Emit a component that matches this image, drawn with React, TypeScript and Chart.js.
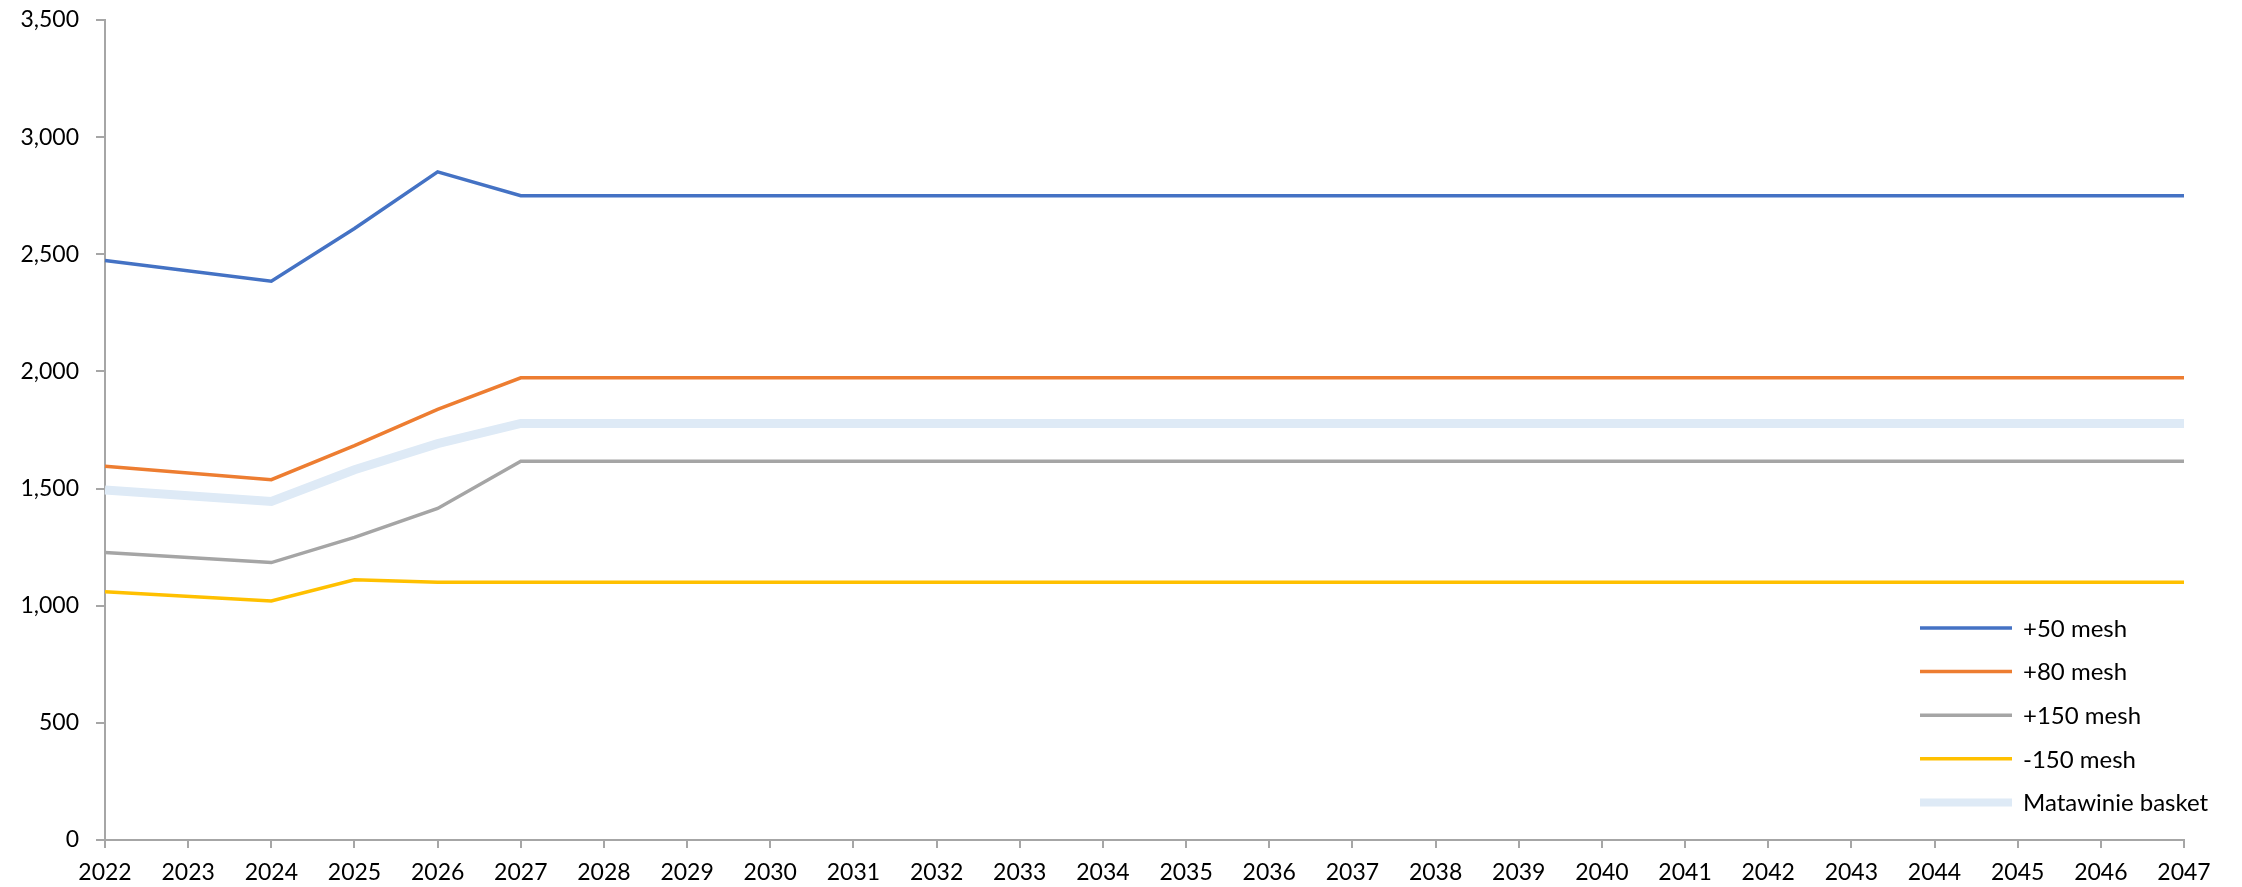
import React, { useEffect, useRef } from "react";
import { Chart, registerables } from "chart.js";

Chart.register(...registerables);

const years = [
  "2022", "2023", "2024", "2025", "2026", "2027", "2028", "2029", "2030", "2031",
  "2032", "2033", "2034", "2035", "2036", "2037", "2038", "2039", "2040", "2041",
  "2042", "2043", "2044", "2045", "2046", "2047",
];

const mesh50 = [
  2473, null, 2385, 2610, 2852, 2750, 2750, 2750, 2750, 2750,
  2750, 2750, 2750, 2750, 2750, 2750, 2750, 2750, 2750, 2750,
  2750, 2750, 2750, 2750, 2750, 2750,
];
const mesh80 = [
  1595, null, 1538, 1683, 1838, 1973, 1973, 1973, 1973, 1973,
  1973, 1973, 1973, 1973, 1973, 1973, 1973, 1973, 1973, 1973,
  1973, 1973, 1973, 1973, 1973, 1973,
];
const mesh150 = [
  1227, null, 1184, 1292, 1415, 1617, 1617, 1617, 1617, 1617,
  1617, 1617, 1617, 1617, 1617, 1617, 1617, 1617, 1617, 1617,
  1617, 1617, 1617, 1617, 1617, 1617,
];
const meshMinus150 = [
  1060, null, 1020, 1111, 1100, 1100, 1100, 1100, 1100, 1100,
  1100, 1100, 1100, 1100, 1100, 1100, 1100, 1100, 1100, 1100,
  1100, 1100, 1100, 1100, 1100, 1100,
];
const matawinie = [
  1494, null, 1445, 1580, 1692, 1778, 1778, 1778, 1778, 1778,
  1778, 1778, 1778, 1778, 1778, 1778, 1778, 1778, 1778, 1778,
  1778, 1778, 1778, 1778, 1778, 1778,
];

const yTicks = [0, 500, 1000, 1500, 2000, 2500, 3000, 3500];

const FONT = "Lato, 'Open Sans', sans-serif";
const AXIS_COLOR = "#a6a6a6";

const legendPlugin = {
  id: "customLegend",
  afterDraw(chart: any) {
    const { ctx, chartArea } = chart;
    const lineStart = chartArea.right - 264;
    const lineEnd = chartArea.right - 172;
    const textX = chartArea.right - 161;
    const firstY = chartArea.bottom - 212;
    const gap = 43.6;
    ctx.save();
    ctx.font = `24px ${FONT}`;
    ctx.textBaseline = "middle";
    ctx.textAlign = "left";
    chart.data.datasets.forEach((ds: any, row: number) => {
      const y = firstY + row * gap;
      ctx.strokeStyle = ds.borderColor;
      ctx.lineWidth = ds.legendWidth || ds.borderWidth;
      ctx.lineCap = "butt";
      ctx.beginPath();
      ctx.moveTo(lineStart, y);
      ctx.lineTo(lineEnd, y);
      ctx.stroke();
      ctx.fillStyle = "#000";
      ctx.fillText(ds.label, textX, y + 1);
    });
    ctx.restore();
  },
};

export default function App() {
  const canvasRef = useRef<HTMLCanvasElement | null>(null);

  useEffect(() => {
    if (!canvasRef.current) return;
    const chart = new Chart(canvasRef.current, {
      type: "line",
      data: {
        labels: years,
        datasets: [
          { label: "+50 mesh", data: mesh50, borderColor: "#4472C4", borderWidth: 3.5, order: 1 },
          { label: "+80 mesh", data: mesh80, borderColor: "#ED7D31", borderWidth: 3.5, order: 2 },
          { label: "+150 mesh", data: mesh150, borderColor: "#A5A5A5", borderWidth: 3.5, order: 3 },
          { label: "-150 mesh", data: meshMinus150, borderColor: "#FFC000", borderWidth: 3.5, order: 4 },
          { label: "Matawinie basket", data: matawinie, borderColor: "#DEEAF6", borderWidth: 9, legendWidth: 8, order: 5 } as any,
        ],
      },
      options: {
        responsive: false,
        animation: false,
        spanGaps: true,
        elements: {
          point: { radius: 0, hoverRadius: 0 },
          line: { tension: 0, borderJoinStyle: "miter", fill: false },
        },
        layout: { padding: { top: 20, right: 58, bottom: 0, left: 0 } },
        plugins: {
          legend: { display: false },
          tooltip: { enabled: false },
        },
        scales: {
          x: {
            type: "category",
            offset: false,
            grid: {
              display: true,
              drawOnChartArea: false,
              drawTicks: true,
              tickLength: 8,
              color: AXIS_COLOR,
              lineWidth: 2,
            },
            border: { display: true, color: AXIS_COLOR, width: 2 },
            ticks: {
              autoSkip: false,
              maxRotation: 0,
              minRotation: 0,
              padding: 11,
              color: "#000",
              font: { family: FONT, size: 23 },
            },
            afterFit(scale: any) {
              scale.height = 47;
            },
          },
          y: {
            min: 0,
            max: 3500,
            afterBuildTicks(scale: any) {
              scale.ticks = yTicks.map((v) => ({ value: v }));
            },
            grid: {
              display: true,
              drawOnChartArea: false,
              drawTicks: true,
              tickLength: 9,
              color: AXIS_COLOR,
              lineWidth: 2,
            },
            border: { display: true, color: AXIS_COLOR, width: 2 },
            ticks: {
              padding: 17,
              color: "#000",
              font: { family: FONT, size: 23 },
              callback: (v: any) => Number(v).toLocaleString("en-US"),
            },
            afterFit(scale: any) {
              scale.width = 105;
              scale.paddingTop = 0;
              scale.paddingBottom = 0;
            },
          },
        },
      },
      plugins: [legendPlugin],
    });
    return () => chart.destroy();
  }, []);

  return (
    <div style={{ position: "fixed", left: 0, top: 0, width: 2242, height: 887, background: "#fff" }}>
      <canvas ref={canvasRef} width={2242} height={887} style={{ display: "block" }} />
    </div>
  );
}
